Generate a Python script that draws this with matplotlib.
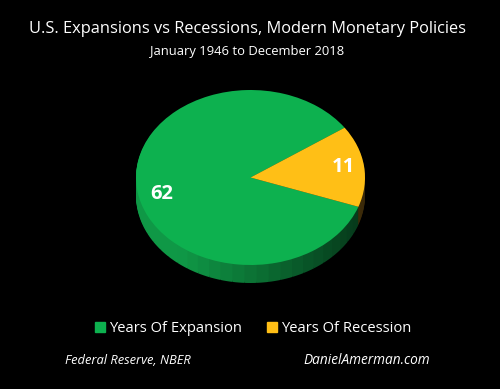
import matplotlib
matplotlib.use('Agg')
import matplotlib.pyplot as plt
from matplotlib.colors import to_rgb
from matplotlib.lines import Line2D
import numpy as np

LABELS = ['Years Of Expansion', 'Years Of Recession']
VALUES = [62, 11]
COLORS = ['#0db14f', '#ffbf16']
TITLE = 'U.S. Expansions vs Recessions, Modern Monetary Policies'
SUBTITLE = 'January 1946 to December 2018'
SOURCE = 'Federal Reserve, NBER'
SITE = 'DanielAmerman.com'

W, H = 500, 389
START = 34.7  # green starts at the top edge of the yellow slice
DEPTH = 18  # px
RY = 87.5
STEPS = 60

plt.rcParams['font.family'] = ['Open Sans', 'DejaVu Sans']


def fx(px):
    return px / W


def fy(py):
    return 1 - py / H


fig = plt.figure(figsize=(W / 100, H / 100), dpi=100, facecolor='black')
ax = fig.add_axes([fx(136), fy(265), 229 / W, 175 / H])

# side of the disc, stacked pies with shading by angle
total = sum(VALUES)
side_vals = []
side_cols = []
angle = START
for value, color in zip(VALUES, ['#10a04a', '#a8781a']):
    n = max(2, int(STEPS * value / total))
    for i in range(n):
        side_vals.append(value / n)
        a = np.radians(angle + (i + 0.5) * value / n * 360 / total)
        # lit from the lower left, dark towards the right
        light = 0.72 - 0.42 * np.cos(a) * 0.9
        light = min(max(light, 0.3), 0.95)
        side_cols.append(tuple(c * light for c in to_rgb(color)))
    angle += value * 360 / total

for d in range(DEPTH, 0, -1):
    ax.pie(side_vals, colors=side_cols, startangle=START, radius=1, center=(0, -d / RY),
           wedgeprops={'clip_on': False, 'linewidth': 0.3, 'edgecolor': 'none'})

wedges, _ = ax.pie(VALUES, colors=COLORS, startangle=START, radius=1,
                   wedgeprops={'clip_on': False, 'linewidth': 0})
ax.set_aspect('auto')
ax.set_xlim(-1, 1)
ax.set_ylim(-1, 1)

fig.text(fx(162), fy(194), str(VALUES[0]), color='white', fontsize=14.5, fontweight='bold', ha='center', va='center')
fig.text(fx(343), fy(167), str(VALUES[1]), color='white', fontsize=14.5, fontweight='bold', ha='center', va='center')

fig.text(fx(247.5), fy(29), TITLE, color='white', fontsize=11.75, ha='center', va='center')
fig.text(fx(247), fy(52), SUBTITLE, color='white', fontsize=9.4, ha='center', va='center')

handles = [Line2D([], [], ls='', marker='s', ms=7, mfc=c, mec=c) for c in COLORS]
fig.legend(handles, LABELS, loc='center', bbox_to_anchor=(fx(252), fy(329)), ncol=2, frameon=False,
           labelcolor='white', fontsize=10.6, handletextpad=0.1, columnspacing=1.6, handlelength=1)

fig.text(fx(65), fy(361), SOURCE, color='white', fontsize=9.3, style='italic', ha='left', va='center')
fig.text(fx(430), fy(361), SITE, color='white', fontsize=9.8, style='italic', ha='right', va='center')

fig.savefig('out.png', dpi=100, facecolor='black')
